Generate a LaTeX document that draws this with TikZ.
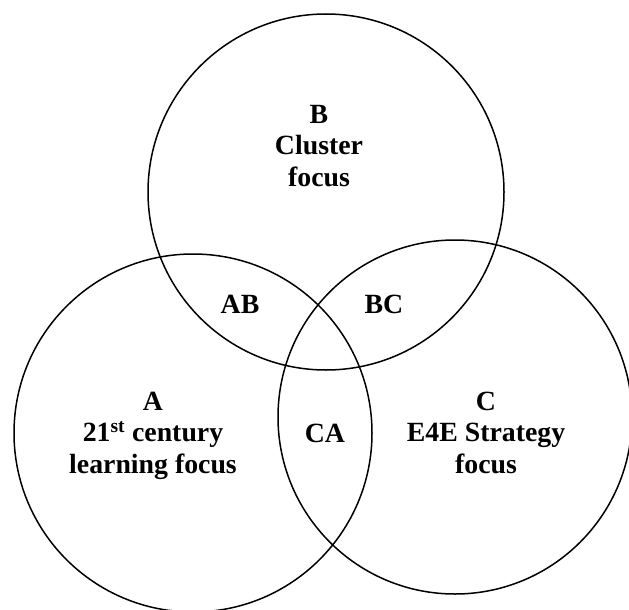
\documentclass[tikz,border=0pt]{standalone}
\usepackage{fontspec}
\setmainfont{Liberation Serif}
\begin{document}
\begin{tikzpicture}[x=1pt,y=-1pt,
  ring/.style={draw=black,line width=1.5pt},
  lbl/.style={font=\bfseries\fontsize{27.8}{31.5}\selectfont,align=center,inner sep=0pt,anchor=base}]
\useasboundingbox (0,0) rectangle (629,610);
% three overlapping sets
\draw[ring] (326,192) circle (178);
\draw[ring] (193,433) circle (179);
\draw[ring] (455,417) circle (177);
% set labels (anchored on the baseline of their last line)
\node[lbl] (b) at (319,186) {B\\Cluster\\focus};
\node[lbl] (a) at (153,473) {A\\21\textsuperscript{st} century\\learning focus};
\node[lbl] (c) at (486,473) {C\\E4E Strategy\\focus};
% overlap labels
\node[lbl] (ab) at (240,313) {AB};
\node[lbl] (bc) at (384,313) {BC};
\node[lbl] (ca) at (325,442) {CA};
\end{tikzpicture}
\end{document}
